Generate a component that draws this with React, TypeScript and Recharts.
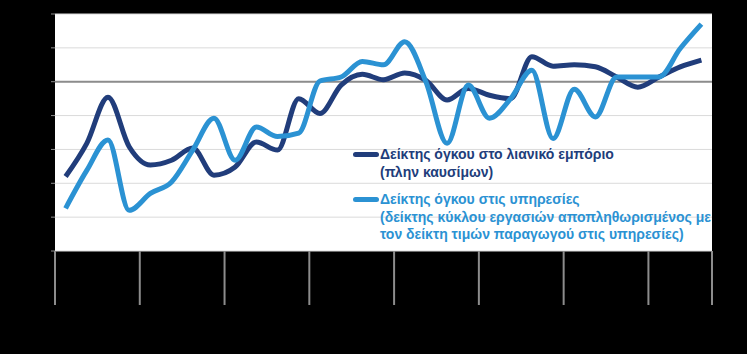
import {
  CartesianGrid,
  Legend,
  Line,
  LineChart,
  ReferenceLine,
  XAxis,
  YAxis,
} from 'recharts';

// quarterly observations, 31 points
const quarters = [
  'Q1 2010', 'Q2 2010', 'Q3 2010', 'Q4 2010',
  'Q1 2011', 'Q2 2011', 'Q3 2011', 'Q4 2011',
  'Q1 2012', 'Q2 2012', 'Q3 2012', 'Q4 2012',
  'Q1 2013', 'Q2 2013', 'Q3 2013', 'Q4 2013',
  'Q1 2014', 'Q2 2014', 'Q3 2014', 'Q4 2014',
  'Q1 2015', 'Q2 2015', 'Q3 2015', 'Q4 2015',
  'Q1 2016', 'Q2 2016', 'Q3 2016', 'Q4 2016',
  'Q1 2017', 'Q2 2017', 'Q3 2017',
];

const retail = [
  86.0, 90.9, 97.7, 90.4, 87.7, 88.4, 90.2, 86.2, 87.4, 91.1, 89.9,
  97.5, 95.3, 99.5, 101.1, 100.3, 101.3, 100.2, 97.3, 99.0, 98.0,
  97.5, 103.7, 102.3, 102.5, 102.2, 100.7, 99.2, 100.7, 102.2, 103.2,
];

const services = [
  81.3, 86.9, 91.4, 81.0, 83.5, 85.2, 89.9, 94.6, 88.4, 93.3, 91.9,
  92.4, 100.1, 100.7, 103.0, 102.5, 105.9, 100.0, 90.9, 99.5, 94.6,
  97.5, 101.7, 91.6, 98.9, 94.8, 100.7, 100.7, 100.7, 104.9, 108.5,
];

// year boundaries between quarters
const yearTicks = [-0.5, 3.5, 7.5, 11.5, 15.5, 19.5, 23.5, 27.5, 30.5];
const yTicks = [75, 80, 85, 90, 95, 100, 105, 110];

const DARK = '#213d7b';
const LIGHT = '#2b92d3';

const legendItems = [
  {
    color: DARK,
    lines: ['Δείκτης όγκου στο λιανικό εμπόριο', '(πλην καυσίμων)'],
  },
  {
    color: LIGHT,
    lines: [
      'Δείκτης όγκου στις υπηρεσίες',
      '(δείκτης κύκλου εργασιών αποπληθωρισμένος με',
      'τον δείκτη τιμών παραγωγού στις υπηρεσίες)',
    ],
  },
];

const data = quarters.map((q, i) => ({
  i,
  q,
  retail: retail[i],
  services: services[i],
}));

// axis labels are not shown, only the tick lines
const NoLabel = () => <g />;

function LegendBox() {
  return (
    <div
      style={{
        fontFamily: '"Liberation Sans", Arial, sans-serif',
        fontWeight: 'bold',
        fontSize: 14,
        lineHeight: '17.6px',
        whiteSpace: 'nowrap',
      }}
    >
      {legendItems.map((item, k) => (
        <div key={k} style={{ display: 'flex', marginTop: k === 0 ? 0 : 10 }}>
          <span
            style={{
              display: 'inline-block',
              width: 26,
              height: 5,
              borderRadius: 3,
              background: item.color,
              marginTop: 6,
              marginRight: 1,
              flexShrink: 0,
            }}
          />
          <div style={{ color: item.color }}>
            {item.lines.map((l) => (
              <div key={l}>{l}</div>
            ))}
          </div>
        </div>
      ))}
    </div>
  );
}

export default function App() {
  return (
    <div style={{ width: 747, height: 354, background: '#000' }}>
      <style>{'body{margin:0;background:#000}'}</style>
      <LineChart
        width={747}
        height={354}
        data={data}
        margin={{ top: 14, right: 35, bottom: 43, left: 0 }}
      >
        <CartesianGrid
          vertical={false}
          fill="#ffffff"
          stroke="#dadada"
          strokeWidth={1}
        />
        <XAxis
          type="number"
          dataKey="i"
          domain={[-0.5, 30.5]}
          ticks={yearTicks}
          interval={0}
          height={60}
          tick={NoLabel}
          axisLine={false}
          tickSize={54}
          tickLine={{ stroke: '#8c8c8c', strokeWidth: 2 }}
        />
        <YAxis
          type="number"
          domain={[75, 110]}
          ticks={yTicks}
          interval={0}
          width={55}
          tick={NoLabel}
          axisLine={false}
          tickSize={4}
          tickLine={{ stroke: '#8c8c8c', strokeWidth: 1 }}
        />
        <ReferenceLine y={100} stroke="#8c8c8c" strokeWidth={2} />
        <Line
          type="monotone"
          dataKey="retail"
          stroke={DARK}
          strokeWidth={5}
          dot={false}
          isAnimationActive={false}
        />
        <Line
          type="monotone"
          dataKey="services"
          stroke={LIGHT}
          strokeWidth={5}
          dot={false}
          isAnimationActive={false}
        />
        <Legend
          layout="vertical"
          align="center"
          verticalAlign="middle"
          content={() => <LegendBox />}
          wrapperStyle={{
            left: 353,
            top: 146,
          }}
        />
      </LineChart>
    </div>
  );
}
